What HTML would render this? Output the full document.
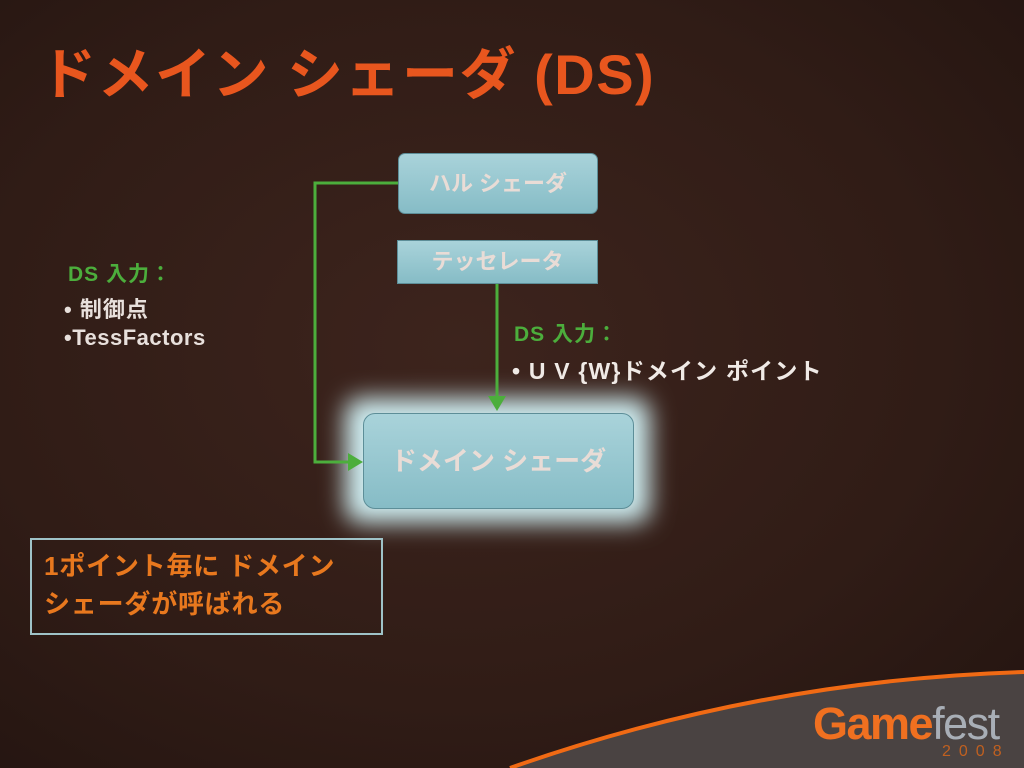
<!DOCTYPE html>
<html><head><meta charset="utf-8"><style>
body{margin:0;width:1024px;height:768px;overflow:hidden;background:radial-gradient(ellipse at 45% 45%,#3d241d 0%,#301c16 60%,#231410 100%);font-family:"Liberation Sans","Noto Sans CJK JP",sans-serif;position:relative}
.t{position:absolute;white-space:nowrap}
.box{position:absolute;background:linear-gradient(#a9d3da,#86bcc6);color:#e9dcd6;text-align:center;font-weight:bold;border:1px solid #5d8e98}
</style></head><body>
<div class="t" style="left:40px;top:30px;font-size:56px;color:#e8561e;font-weight:bold;letter-spacing:1.5px">ドメイン シェーダ (DS)</div>

<svg style="position:absolute;left:0;top:0" width="1024" height="768">
<defs><filter id="g" x="-30%" y="-40%" width="160%" height="180%"><feGaussianBlur stdDeviation="12"/></filter></defs>
<rect x="345" y="398" width="305" height="125" rx="16" fill="#cfeef2" filter="url(#g)"/>
<path d="M510 768 Q760 680 1024 672 L1024 768 Z" fill="#4a4342"/>
<path d="M510 768 Q760 680 1024 672" stroke="#f06a14" stroke-width="4" fill="none"/>
<g stroke="#4cae3c" stroke-width="3" fill="none">
<path d="M398 183 H315 V462 H350"/>
<path d="M497 284 V398"/>
</g>
<path d="M348 453 L363 462 L348 471 Z" fill="#4cae3c"/>
<path d="M488 396 L497 411 L506 396 Z" fill="#4cae3c"/>
</svg>

<div class="box" style="left:398px;top:153px;width:198px;height:59px;border-radius:7px;line-height:59px;font-size:22px">ハル シェーダ</div>
<div class="box" style="left:397px;top:240px;width:199px;height:42px;line-height:42px;font-size:22px">テッセレータ</div>
<div class="box" style="left:363px;top:413px;width:269px;height:94px;border-radius:12px;line-height:94px;font-size:26px">ドメイン シェーダ</div>

<div class="t" style="left:68px;top:258px;font-size:21px;color:#4cae3c;font-weight:bold;letter-spacing:1px">DS 入力：</div>
<div class="t" style="left:64px;top:292px;font-size:22px;color:#e8e0dc;font-weight:bold;letter-spacing:1px">• 制御点</div>
<div class="t" style="left:64px;top:325px;font-size:22px;color:#e8e0dc;font-weight:bold;letter-spacing:0.5px">•TessFactors</div>

<div class="t" style="left:514px;top:318px;font-size:21px;color:#4cae3c;font-weight:bold;letter-spacing:1px">DS 入力：</div>
<div class="t" style="left:512px;top:352px;font-size:23px;color:#f0eae6;font-weight:bold;letter-spacing:1.2px">• U V {W}ドメイン ポイント</div>

<div style="position:absolute;left:30px;top:538px;width:349px;height:93px;border:2px solid #9fc3c8"></div>
<div class="t" style="left:44px;top:547px;font-size:26px;line-height:38px;color:#e8781e;font-weight:bold;letter-spacing:0.8px">1ポイント毎に ドメイン<br>シェーダが呼ばれる</div>

<div class="t" style="left:813px;top:698px;font-size:45px;font-weight:bold;color:#f07020;letter-spacing:-1.5px">Game<span style="color:#a8aeb6;font-weight:normal">fest</span></div>
<div class="t" style="left:942px;top:743px;font-size:16px;color:#c06020;letter-spacing:8px">2008</div>
</body></html>
